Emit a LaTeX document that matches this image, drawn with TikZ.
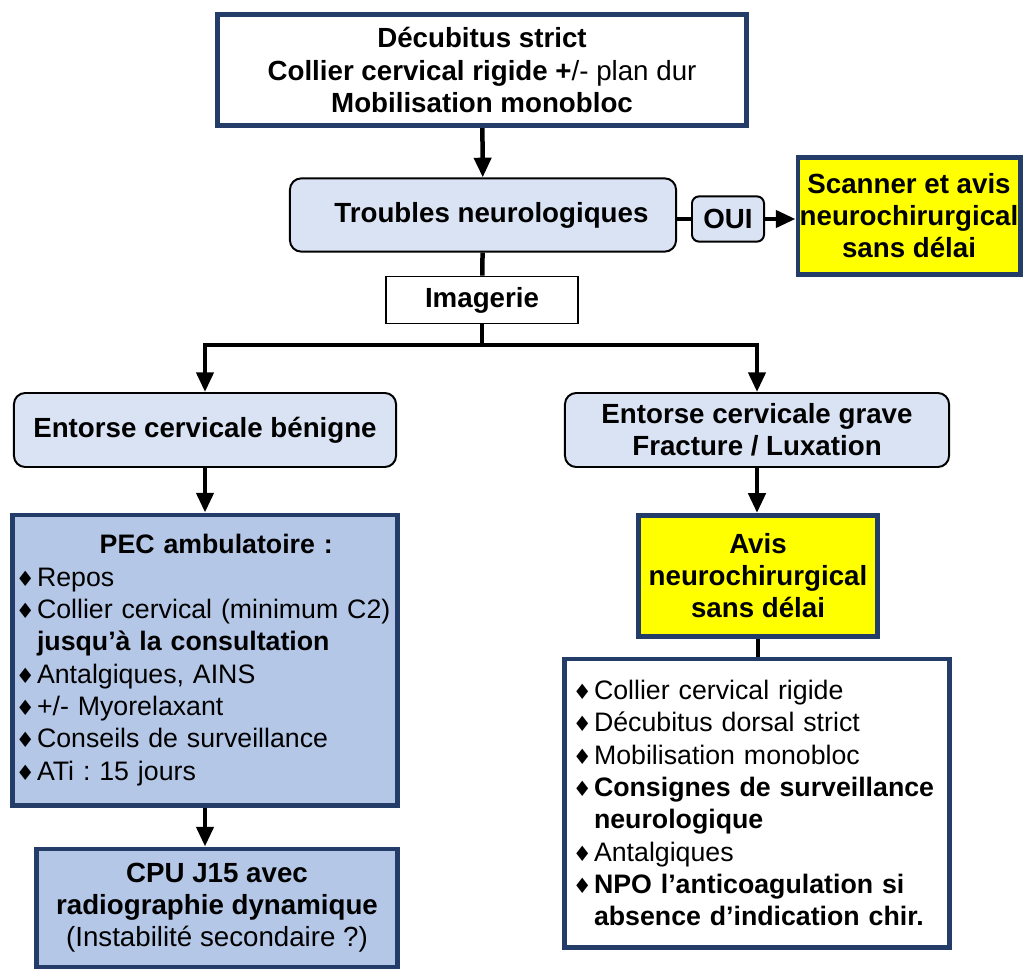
\documentclass[tikz,border=0pt]{standalone}
\usepackage{fontspec}
\setmainfont{Liberation Sans}
\newfontfamily\symfont{DejaVu Sans}
\usetikzlibrary{arrows.meta}
\frenchspacing
\hyphenpenalty=10000

\definecolor{navy}{RGB}{36,60,104}
\definecolor{paleblue}{RGB}{218,227,243}
\definecolor{midblue}{RGB}{180,199,231}
\definecolor{jaune}{RGB}{255,255,0}

\newcommand{\puce}{\makebox[15pt][l]{\symfont\fontsize{15}{15}\selectfont ♦}}
\newcommand{\retrait}{\hspace*{15pt}}

\begin{document}
\begin{tikzpicture} [x=0.025cm, y=-0.025cm,
		every node/.style = {font=\fontsize{19.7}{22.8}\selectfont},
		cadre/.style = {draw=navy,
			line width=3.5pt,
			inner sep=0pt,
			align=center},
		liste/.style = {align=left,
			font=\fontsize{19}{23}\selectfont},
		bulle/.style = {draw=black,
			line width=1.4pt,
			rounded corners=8pt,
			fill=paleblue,
			align=center,
			font=\fontsize{19.7}{22.8}\selectfont\bfseries},
		fleche/.style = {line width=3.2pt, -{Triangle[width=12pt,length=14pt]}},
		trait/.style = {line width=3.2pt}]

	\useasboundingbox (0,0) rectangle (1024,972);

	% boxes
	\node (haut) at (482,70) [cadre, fill=white, minimum width=13.2cm, minimum height=2.78cm]
		{\textbf{Décubitus strict}\\ \textbf{Collier cervical rigide +}/- plan dur\\ \textbf{Mobilisation monobloc}};
	\node (troubles) at (483,215) [bulle, minimum width=9.65cm, minimum height=1.83cm] {\hspace*{12pt}Troubles neurologiques};
	\node (oui) at (728,219) [bulle, rounded corners=5pt, minimum width=1.8cm, minimum height=1.13cm] {OUI};
	\node (scanner) at (909,216) [cadre, fill=jaune, font=\fontsize{19.7}{22.8}\selectfont\bfseries,
		minimum width=5.55cm, minimum height=2.93cm] {Scanner et avis\\neurochirurgical\\sans délai};
	\node (imagerie) at (482,300) [draw, line width=1pt, fill=white, font=\fontsize{19.7}{22.8}\selectfont\bfseries,
		minimum width=4.8cm, minimum height=1.18cm] {Imagerie};

	\node (benigne) at (205,430) [bulle, minimum width=9.55cm, minimum height=1.85cm] {Entorse cervicale bénigne};
	\node (grave) at (757,430) [bulle, minimum width=9.6cm, minimum height=1.85cm] {Entorse cervicale grave\\Fracture / Luxation};

	\node (pec) at (205,660) [cadre, liste, fill=midblue, minimum width=9.6cm, minimum height=7.25cm, text width=9.45cm]
		{\makebox[\linewidth]{\hspace*{16pt}\bfseries PEC ambulatoire :}\\
		\puce Repos\\
		\puce Collier cervical (minimum C2)\\
		\retrait\textbf{jusqu’à la consultation}\\
		\puce Antalgiques, AINS\\
		\puce +/- Myorelaxant\\
		\puce Conseils de surveillance\\
		\puce ATi : 15 jours};
	\node (cpu) at (217,908) [cadre, fill=midblue, minimum width=9.0cm, minimum height=2.95cm]
		{\textbf{CPU J15 avec}\\ \textbf{radiographie dynamique}\\ (Instabilité secondaire ?)};

	\node (avis) at (758,576) [cadre, fill=jaune, font=\fontsize{19.7}{22.8}\selectfont\bfseries,
		minimum width=5.98cm, minimum height=3.03cm] {Avis\\neurochirurgical\\sans délai};
	\node (consignes) at (757,803) [cadre, liste, fill=white, minimum width=9.6cm, minimum height=7.2cm, text width=9.2cm]
		{\puce Collier cervical rigide\\
		\puce Décubitus dorsal strict\\
		\puce Mobilisation monobloc\\
		\puce\textbf{Consignes de surveillance}\\
		\retrait\textbf{neurologique}\\
		\puce Antalgiques\\
		\puce\textbf{NPO l’anticoagulation si}\\
		\retrait\textbf{absence d’indication chir.}};

	% connectors
	\draw[fleche] (haut) -- (troubles);
	\draw[trait] (troubles.east |- oui.west) -- (oui);
	\draw[fleche] (oui) -- (scanner.west |- oui);
	\draw[trait] (troubles) -- (imagerie);
	\coordinate (fourche) at (482,345);
	\draw[trait] (imagerie) -- (fourche);
	\draw[fleche] (fourche) -| (benigne);
	\draw[fleche] (fourche) -| (grave);
	\draw[fleche] (benigne) -- (pec);
	\draw[fleche] (pec.south) -- (pec.south |- cpu.north);
	\draw[fleche] (grave.south) -- (grave.south |- avis.north);
	\draw[trait] (avis.south) -- (avis.south |- consignes.north);

\end{tikzpicture}
\end{document}
